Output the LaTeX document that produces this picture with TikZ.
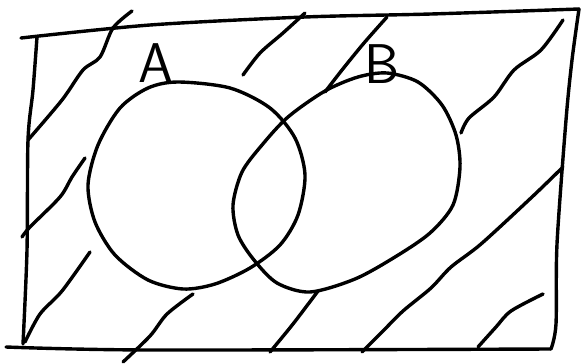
\documentclass[tikz,border=0pt]{standalone}
\usepackage{tikz}
\begin{document}
\begin{tikzpicture}[x=1pt, y=-1pt,
  pen/.style={line width=3.4pt, line cap=round, line join=round},
  setlabel/.style={inner sep=0pt, font=\sffamily\fontsize{56}{56}\selectfont}]
\useasboundingbox (0,0) rectangle (581,364);
% universe box
\draw[pen] plot[smooth] coordinates {(21,38) (150,25) (305,17) (431,14) (579,9)};
\draw[pen] plot[smooth] coordinates {(37,37) (33,90) (28,140) (27,250) (23,344)};
\draw[pen] plot[smooth] coordinates {(6,347) (150,350) (551,349)};
\draw[pen] plot[smooth] coordinates {(579,9) (572,60) (566,120) (557,244) (556,324) (551,349)};
% sets
\draw[pen] plot[smooth cycle] coordinates {(178,82) (230,88) (270,108) (295,138) (305,175)
  (298,215) (280,245) (250,268) (215,284) (183,289) (148,280) (115,255) (95,222) (88,185)
  (98,145) (120,108) (148,88)};
\draw[pen] plot[smooth cycle] coordinates {(387,73) (418,82) (442,105) (456,135) (460,167)
  (453,205) (430,233) (395,257) (355,279) (310,292) (277,283) (254,260) (238,235)
  (233,205) (242,172) (262,145) (288,117) (325,91) (358,77)};
\node[setlabel] (labA) at (156,63) {A};
\node[setlabel] (labB) at (382,64) {B};
% hatching outside A and B
\draw[pen] plot[smooth] coordinates {(132,11) (113,28) (100,57) (83,70) (62,100) (28,140)};
\draw[pen] plot[smooth] coordinates {(85,158) (72,177) (60,197) (30,227) (22,237)};
\draw[pen] plot[smooth] coordinates {(90,252) (62,291) (40,314) (25,342)};
\draw[pen] plot[smooth] coordinates {(305,13) (283,33) (260,53) (243,75)};
\draw[pen] plot[smooth] coordinates {(387,17) (364,43) (342,70) (325,92)};
\draw[pen] plot[smooth] coordinates {(563,20) (541,50) (514,70) (494,97) (469,118) (461,133)};
\draw[pen] plot[smooth] coordinates {(563,167) (532,197) (481,244) (451,267) (431,288) (403,311) (383,331) (362,352)};
\draw[pen] plot[smooth] coordinates {(543,294) (511,311) (496,327) (478,347)};
\draw[pen] plot[smooth] coordinates {(318,291) (293,324) (270,352)};
\draw[pen] plot[smooth] coordinates {(193,294) (167,314) (150,336) (123,362)};
\end{tikzpicture}
\end{document}
